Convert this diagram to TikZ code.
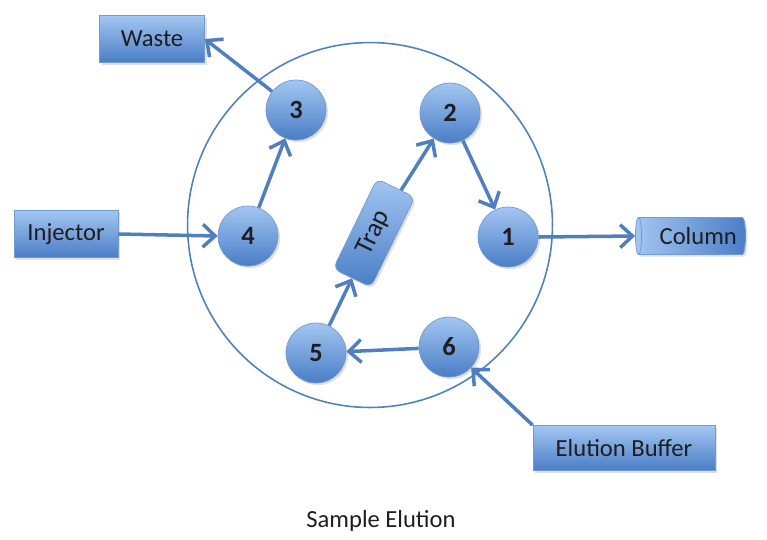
\documentclass[tikz,border=0pt]{standalone}
\usepackage{fontspec}
\setmainfont{Carlito}
\usetikzlibrary{arrows.meta,shapes.geometric,shadows}
\definecolor{lightb}{HTML}{A3C6F2}
\definecolor{darkb}{HTML}{4A7DC6}
\definecolor{edgeb}{HTML}{4F81BD}
\definecolor{arrowb}{HTML}{4F7FBF}
\definecolor{txt}{HTML}{1E1E1E}
\begin{document}
\begin{tikzpicture}[x=0.02cm,y=-0.02cm,
  base/.style={draw=edgeb!80!white,line width=0.4pt,top color=lightb,bottom color=darkb,
     text=txt,font=\fontsize{14}{16}\selectfont,
     drop shadow={opacity=0.25,shadow xshift=1.2pt,shadow yshift=-1.2pt}},
  port/.style={base,circle,minimum size=1.2cm,inner sep=0pt,font=\fontsize{15}{17}\selectfont\bfseries},
  box/.style={base,rectangle,inner sep=0pt},
  flow/.style={draw=arrowb,line width=2pt,-{Straight Barb[length=7pt,width=13pt,line width=2pt]}}
]
\useasboundingbox (0,0) rectangle (767,539);
% valve body
\node[draw=edgeb,line width=0.9pt,circle,minimum size=7.3cm,inner sep=0pt] (valve) at (370,225) {};
% ports
\node[port] (p1) at (508,237) {1};
\node[port] (p2) at (450,113) {2};
\node[port] (p3) at (296,110) {3};
\node[port] (p4) at (248,236) {4};
\node[port] (p5) at (316,353) {5};
\node[port] (p6) at (449,347) {6};
% trap
\node[box,rounded corners=4pt,minimum width=2.0cm,minimum height=0.84cm,rotate=64,
  font=\fontsize{15}{17}\selectfont] (trap) at (374,233) {Trap};
% external boxes
\node[box,minimum width=2.1cm,minimum height=0.94cm] (waste) at (152,39) {Waste};
\node[box,minimum width=2.08cm,minimum height=0.94cm] (inj) at (66,234) {Injector};
\node[box,minimum width=3.64cm,minimum height=0.9cm] (eb) at (624,448) {Elution Buffer};
\node[base,cylinder,shape border rotate=180,aspect=0.25,minimum width=0.74cm,minimum height=2.2cm,inner sep=2pt,
  shading angle=0,left color=lightb,right color=darkb] (col) at (693,236) {\hspace{6pt}Column};
% flow connectors
\draw[flow] (inj.east) -- (p4.west);
\draw[flow] (p4) -- (p3);
\draw[flow] (p3) -- (waste.east);
\draw[flow] (p2) -- (p1);
\draw[flow] (p1.east) -- (col.west);
\draw[flow] (eb.north west) -- (p6);
\draw[flow] (p6) -- (p5);
\draw[flow] (p5) -- (trap);
\draw[flow] (trap) -- (p2);
% caption
\node[text=txt,font=\fontsize{14}{16}\selectfont] (cap) at (381,521) {Sample Elution};
\end{tikzpicture}
\end{document}
